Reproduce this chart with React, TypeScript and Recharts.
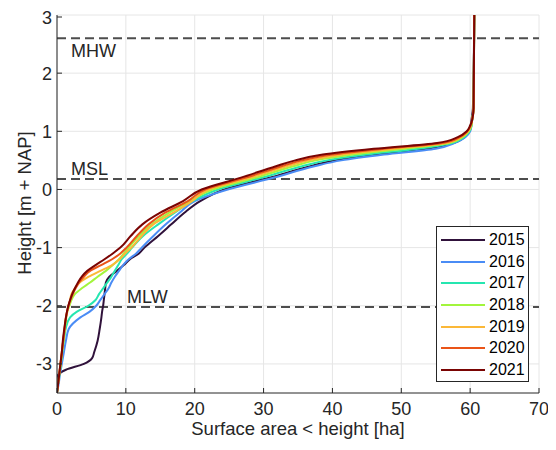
import React from 'react';
import {
  LineChart,
  Line,
  XAxis,
  YAxis,
  CartesianGrid,
  ReferenceLine,
  Legend,
  Label,
} from 'recharts';

// height levels [m + NAP], shared by every year
const heights = [
  -3.5, -3.3, -3.2, -3.1, -3.0, -2.9, -2.8, -2.6, -2.4, -2.2, -2.1, -2.0, -1.9, -1.8, -1.7,
  -1.6, -1.5, -1.4, -1.3, -1.2, -1.1, -1.0, -0.8, -0.6, -0.4, -0.2, 0.0, 0.2, 0.4, 0.5, 0.6,
  0.7, 0.8, 0.9, 1.0, 1.1, 1.2, 1.4, 3.0,
];

// surface area below each height [ha]
const area2015 = [
  0, 0, 0.1, 1.3, 3.9, 5.1, 5.4, 5.9, 6.2, 6.45, 6.55, 6.7, 6.8, 6.9, 7.0, 7.1, 7.6, 8.7, 9.7,
  10.6, 11.9, 12.7, 14.7, 16.6, 18.5, 20.8, 24.3, 30.8, 36.8, 40.3, 46.6, 53.6, 57.6, 59.2,
  59.9, 60.1, 60.2, 60.4, 60.6,
];
const area2016 = [
  0, 0.3, 0.4, 0.55, 0.7, 0.85, 1.0, 1.3, 1.7, 3.4, 4.75, 5.7, 6.3, 6.9, 7.5, 7.9, 8.4, 9.0, 9.6,
  10.4, 11.5, 12.3, 14.0, 15.8, 17.8, 20.0, 24.8, 31.4, 37.4, 41.3, 47.5, 55.0, 57.8, 59.3,
  60.0, 60.2, 60.3, 60.5, 60.6,
];
const area2017 = [
  0, 0.2, 0.35, 0.45, 0.55, 0.65, 0.75, 1.0, 1.25, 1.9, 2.9, 4.55, 5.6, 6.1, 6.7, 7.3, 7.9, 8.4,
  8.9, 9.4, 10.2, 10.9, 12.5, 14.7, 17.1, 19.7, 23.4, 29.7, 35.6, 39.2, 45.0, 52.5, 57.4, 59.1,
  59.9, 60.2, 60.3, 60.5, 60.6,
];
const area2018 = [
  0, 0.2, 0.3, 0.45, 0.55, 0.65, 0.75, 0.95, 1.15, 1.35, 1.5, 1.8, 2.1, 2.6, 3.6, 4.8, 5.9, 7.1,
  8.1, 9.0, 9.7, 10.4, 11.9, 13.8, 16.3, 19.3, 22.6, 28.8, 34.3, 37.6, 43.0, 50.5, 57.0, 58.9,
  59.8, 60.2, 60.3, 60.5, 60.6,
];
const area2019 = [
  0, 0.2, 0.3, 0.4, 0.5, 0.6, 0.7, 0.9, 1.1, 1.3, 1.5, 1.7, 1.9, 2.1, 2.6, 3.3, 4.6, 6.3, 8.0,
  9.1, 9.9, 10.8, 12.3, 14.0, 16.9, 19.6, 22.0, 28.0, 33.4, 36.6, 41.5, 49.0, 56.6, 58.7, 59.7,
  60.1, 60.3, 60.5, 60.6,
];
const area2020 = [
  0, 0.2, 0.3, 0.4, 0.5, 0.6, 0.7, 0.9, 1.1, 1.3, 1.45, 1.65, 1.95, 2.3, 2.7, 3.2, 3.9, 4.8,
  6.4, 8.0, 9.2, 10.1, 11.6, 13.3, 15.7, 19.0, 21.5, 27.3, 32.6, 35.6, 40.0, 47.5, 56.0, 58.5,
  59.6, 60.1, 60.3, 60.5, 60.6,
];
const area2021 = [
  0, 0.2, 0.3, 0.4, 0.5, 0.6, 0.7, 0.85, 1.05, 1.3, 1.45, 1.65, 1.9, 2.2, 2.6, 3.05, 3.6, 4.4,
  5.6, 6.9, 8.1, 9.2, 10.7, 12.4, 15.0, 18.3, 21.0, 26.6, 31.8, 34.6, 38.6, 46.0, 55.2, 58.2,
  59.5, 60.0, 60.3, 60.5, 60.6,
];

const years = ['2015', '2016', '2017', '2018', '2019', '2020', '2021'];
const areas = [area2015, area2016, area2017, area2018, area2019, area2020, area2021];
const colors = ['#30123b', '#4a8cf5', '#25e6b0', '#a2f53c', '#fbb838', '#ea5418', '#7a0403'];

const xTicks = [0, 10, 20, 30, 40, 50, 60, 70];
const yTicks = [-3, -2, -1, 0, 1, 2, 3];

// tidal levels
const levels = [
  { name: 'MHW', value: 2.6, dx: 14, dy: 19 },
  { name: 'MSL', value: 0.18, dx: 14, dy: -4 },
  { name: 'MLW', value: -2.02, dx: 70, dy: -3.5 },
];

const FONT = '"Liberation Sans", Arial, Helvetica, sans-serif';
const INK = '#262626';

const series = years.map((year, i) => ({
  year,
  color: colors[i],
  data: heights.map((h, j) => ({ x: areas[i][j], y: h })),
}));

const XTick = (props: any) => {
  const { x, y, payload } = props;
  return (
    <g>
      <line x1={x} x2={x} y1={y} y2={y - 5} stroke={INK} />
      <text x={x} y={y + 21.5} textAnchor="middle" fontSize={18} fill={INK} fontFamily={FONT}>
        {payload.value}
      </text>
    </g>
  );
};

const YTick = (props: any) => {
  const { x, y, payload } = props;
  return (
    <g>
      <line x1={x} x2={x + 5} y1={y} y2={y} stroke={INK} />
      <text x={x - 5} y={y + 6.5} textAnchor="end" fontSize={18} fill={INK} fontFamily={FONT}>
        {payload.value}
      </text>
    </g>
  );
};

const LegendBox = () => (
  <div
    style={{
      boxSizing: 'border-box',
      width: 93,
      height: 156,
      border: `1px solid ${INK}`,
      background: '#fff',
      paddingTop: 2,
      fontFamily: FONT,
      fontSize: 16,
      color: '#000',
    }}
  >
    {series.map((s) => (
      <div key={s.year} style={{ display: 'flex', alignItems: 'center', height: 21.7 }}>
        <svg width={44} height={4} style={{ marginLeft: 4, marginRight: 4 }}>
          <line x1={0} x2={44} y1={2} y2={2} stroke={s.color} strokeWidth={2} />
        </svg>
        <span>{s.year}</span>
      </div>
    ))}
  </div>
);

const levelLabel = (text: string, dx: number, dy: number) => (props: any) => {
  const vb = props.viewBox;
  return (
    <text x={vb.x + dx} y={vb.y + dy} fontSize={18} fill={INK} fontFamily={FONT}>
      {text}
    </text>
  );
};

const App: React.FC = () => {
  return (
    <div style={{ width: 540, height: 434, fontFamily: FONT }}>
      <LineChart width={540} height={434} margin={{ top: 7, right: 9, left: 9, bottom: 19 }}>
        <CartesianGrid stroke="#e6e6e6" horizontalValues={yTicks} verticalValues={xTicks} />
        <XAxis
          type="number"
          dataKey="x"
          domain={[0, 70]}
          ticks={xTicks}
          allowDataOverflow
          height={30}
          tickSize={0}
          tickMargin={0}
          tickLine={false}
          axisLine={{ stroke: INK }}
          tick={<XTick />}
        >
          <Label
            content={(p: any) => (
              <text
                x={p.viewBox.x + p.viewBox.width / 2}
                y={p.viewBox.y + 42}
                textAnchor="middle"
                fontSize={18.5}
                fill={INK}
                fontFamily={FONT}
              >
                {'Surface area < height [ha]'}
              </text>
            )}
          />
        </XAxis>
        <YAxis
          type="number"
          dataKey="y"
          domain={[-3.5, 3]}
          ticks={yTicks}
          allowDataOverflow
          width={40}
          tickSize={0}
          tickMargin={0}
          tickLine={false}
          axisLine={{ stroke: INK }}
          tick={<YTick />}
        >
          <Label
            content={(p: any) => {
              const cx = 23;
              const cy = p.viewBox.y + p.viewBox.height / 2 - 1;
              return (
                <text
                  x={cx}
                  y={cy}
                  transform={`rotate(-90, ${cx}, ${cy})`}
                  textAnchor="middle"
                  fontSize={18.5}
                  fill={INK}
                  fontFamily={FONT}
                >
                  Height [m + NAP]
                </text>
              );
            }}
          />
        </YAxis>
        {levels.map((l) => (
          <ReferenceLine
            key={l.name}
            y={l.value}
            stroke="#4d4d4d"
            strokeWidth={2}
            strokeDasharray="9 5"
            label={levelLabel(l.name, l.dx, l.dy)}
          />
        ))}
        {series.map((s) => (
          <Line
            key={s.year}
            name={s.year}
            data={s.data}
            dataKey="y"
            type="monotoneY"
            stroke={s.color}
            strokeWidth={2}
            dot={false}
            activeDot={false}
            isAnimationActive={false}
          />
        ))}
        <Legend
          layout="vertical"
          align="center"
          verticalAlign="middle"
          wrapperStyle={{ left: 428, top: 218, width: 93, height: 156 }}
          content={<LegendBox />}
        />
      </LineChart>
    </div>
  );
};

export default App;
